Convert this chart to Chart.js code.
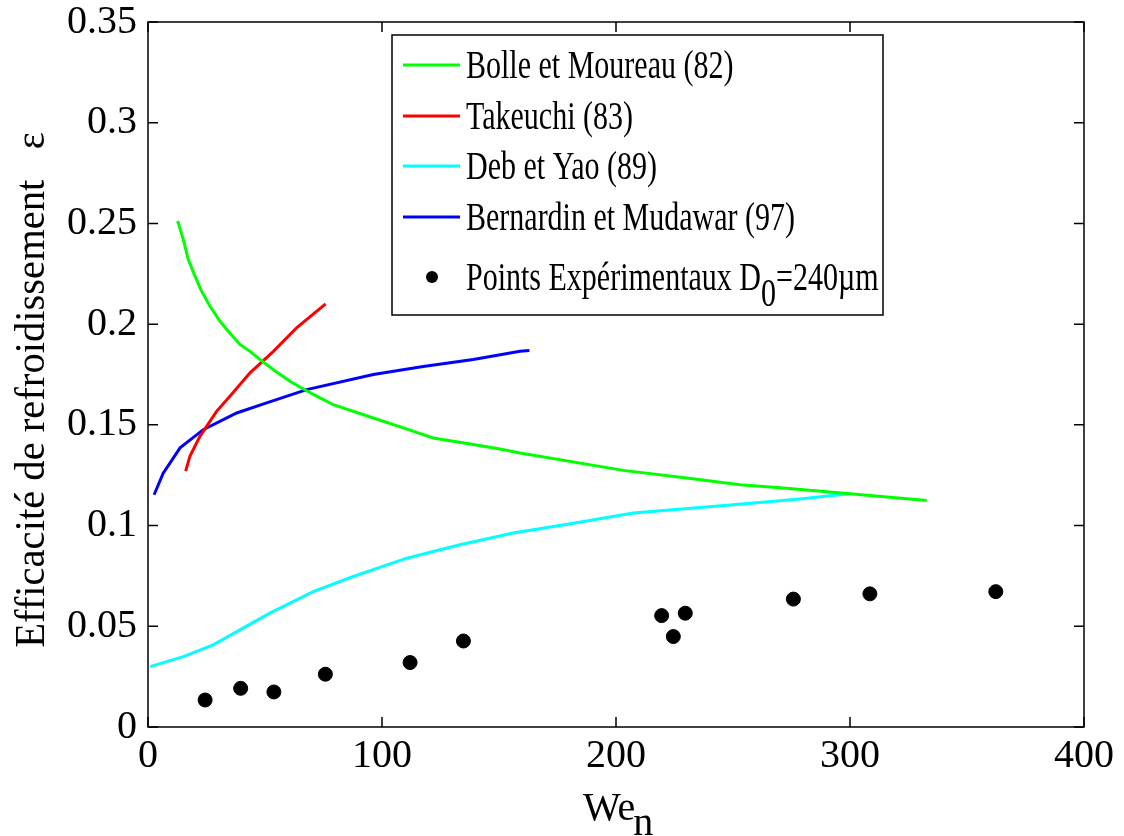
<!DOCTYPE html>
<html>
<head>
<meta charset="utf-8">
<script src="https://cdn.jsdelivr.net/npm/chart.js@4.4.1/dist/chart.umd.min.js"></script>
<style>
    body { margin: 0; background: #fff; }
    canvas { display: block; }
</style>
</head>
<body>
<canvas id="chart" width="1124" height="836"></canvas>
<script>
// values
const bolleX = [12.7, 15.1, 17.2, 20.1, 22.9, 26.5, 30.8, 34.3, 39.3, 43.6, 47.9, 53.6, 60.7, 66.4, 73.5, 79.2, 96.3, 109.1, 121.9, 139, 150.4, 159, 203.1, 230.2, 253, 271.5, 300, 332.8];
const bolleY = [0.2512, 0.242, 0.2321, 0.2238, 0.2164, 0.2089, 0.2014, 0.1965, 0.1899, 0.1865, 0.1824, 0.1774, 0.1716, 0.1678, 0.1634, 0.160, 0.1534, 0.1485, 0.1435, 0.1402, 0.138, 0.136, 0.1274, 0.1236, 0.1203, 0.1186, 0.1158, 0.1125];

const takeuchiX = [16.1, 17.9, 22.2, 29.3, 35, 43.6, 53.6, 63.5, 75.9];
const takeuchiY = [0.127, 0.1344, 0.1443, 0.1567, 0.1642, 0.1758, 0.1865, 0.1981, 0.2101];

const debX = [0.9, 15.1, 27.9, 39.3, 52.1, 70.6, 87.7, 110.6, 133.3, 156.1, 181.8, 207.4, 250.1, 278.6, 299.3];
const debY = [0.030, 0.0349, 0.0408, 0.0482, 0.0565, 0.0672, 0.0747, 0.0838, 0.0905, 0.0963, 0.1012, 0.1062, 0.1103, 0.1132, 0.1158];

const bernardinX = [2.6, 6.5, 13.7, 23.6, 37.9, 50.7, 67.8, 96.3, 117.6, 139, 159, 163];
const bernardinY = [0.1153, 0.126, 0.1386, 0.1476, 0.1559, 0.1609, 0.1675, 0.175, 0.179, 0.1824, 0.1865, 0.1869];

const expX = [24.4, 39.6, 53.8, 75.8, 112, 134.8, 219.5, 224.5, 229.6, 275.8, 308.5, 362.3];
const expY = [0.0134, 0.0192, 0.0174, 0.0262, 0.032, 0.0427, 0.0553, 0.0449, 0.0565, 0.0635, 0.0661, 0.0672];

const xTicks = [0, 100, 200, 300, 400];
const yTicks = [0, 0.05, 0.1, 0.15, 0.2, 0.25, 0.3, 0.35];

const xTitle = "We";
const xTitleSub = "n";
const yTitle = "Efficacité de refroidissement   ε";

const FONT = "'Liberation Serif', 'Times New Roman', serif";

/**
 * Pair x and y arrays into points.
 */
function toPoints(xs, ys) {
    const pts = [];
    for (let i = 0; i < xs.length; i++) {
        pts.push({ x: xs[i], y: ys[i] });
    }
    return pts;
}

function lineSet(label, xs, ys, color) {
    return {
        label: label,
        data: toPoints(xs, ys),
        showLine: true,
        borderColor: color,
        backgroundColor: color,
        borderWidth: 3,
        pointRadius: 0,
        tension: 0
    };
}

/**
 * MATLAB-like box with inward ticks on all four sides.
 */
const boxPlugin = {
    id: "box",
    afterDatasetsDraw(chart) {
        const { ctx, chartArea: a, scales } = chart;
        const len = 10;
        ctx.save();
        ctx.strokeStyle = "#000";
        ctx.lineWidth = 1.5;
        ctx.strokeRect(a.left, a.top, a.right - a.left, a.bottom - a.top);
        ctx.beginPath();
        xTicks.forEach(v => {
            const px = scales.x.getPixelForValue(v);
            ctx.moveTo(px, a.bottom); ctx.lineTo(px, a.bottom - len);
            ctx.moveTo(px, a.top); ctx.lineTo(px, a.top + len);
        });
        yTicks.forEach(v => {
            const py = scales.y.getPixelForValue(v);
            ctx.moveTo(a.left, py); ctx.lineTo(a.left + len, py);
            ctx.moveTo(a.right, py); ctx.lineTo(a.right - len, py);
        });
        ctx.stroke();
        ctx.restore();
    }
};

/**
 * Axis titles, x title has a subscript.
 */
const titlePlugin = {
    id: "titles",
    afterDraw(chart) {
        const { ctx } = chart;
        ctx.save();
        ctx.fillStyle = "#000";
        ctx.font = "40px " + FONT;
        ctx.textBaseline = "alphabetic";
        ctx.textAlign = "left";
        const wx = 583;
        ctx.fillText(xTitle, wx, 820);
        const w = ctx.measureText(xTitle).width;
        ctx.fillText(xTitleSub, wx + w - 2, 835);

        ctx.font = "43px " + FONT;
        ctx.translate(44, 390);
        ctx.rotate(-Math.PI / 2);
        ctx.scale(0.944, 1);
        ctx.textAlign = "center";
        ctx.fillText(yTitle, 0, 0);
        ctx.restore();
    }
};

/**
 * Legend box in the top right, drawn from the datasets.
 */
const legendPlugin = {
    id: "boxLegend",
    afterDraw(chart, args, opts) {
        const { ctx } = chart;
        const box = opts.box;
        ctx.save();
        ctx.fillStyle = "#fff";
        ctx.fillRect(box.x, box.y, box.w, box.h);
        ctx.strokeStyle = "#000";
        ctx.lineWidth = 1.5;
        ctx.strokeRect(box.x, box.y, box.w, box.h);

        chart.data.datasets.forEach((ds, i) => {
            const cy = opts.rows[i];
            if (ds.showLine) {
                ctx.strokeStyle = ds.borderColor;
                ctx.lineWidth = 3;
                ctx.beginPath();
                ctx.moveTo(box.x + 11, cy);
                ctx.lineTo(box.x + 68, cy);
                ctx.stroke();
            } else {
                ctx.fillStyle = ds.backgroundColor;
                ctx.beginPath();
                ctx.arc(box.x + 40, cy, 6, 0, Math.PI * 2);
                ctx.fill();
            }
            // text is a bit narrow in the original
            ctx.fillStyle = "#000";
            ctx.font = "40px " + FONT;
            ctx.textBaseline = "middle";
            ctx.textAlign = "left";
            ctx.save();
            ctx.translate(box.x + 74, cy + 2);
            ctx.scale(0.75, 1);
            const parts = ds.label.split("₀");
            let x = 0;
            parts.forEach((p, k) => {
                ctx.fillText(p, x, 0);
                x += ctx.measureText(p).width;
                if (k < parts.length - 1) {
                    ctx.fillText("0", x, 16);
                    x += ctx.measureText("0").width;
                }
            });
            ctx.restore();
        });
        ctx.restore();
    }
};

new Chart(document.getElementById("chart"), {
    type: "scatter",
    data: {
        datasets: [
            lineSet("Bolle et Moureau (82)", bolleX, bolleY, "#00ff00"),
            lineSet("Takeuchi (83)", takeuchiX, takeuchiY, "#ff0000"),
            lineSet("Deb et Yao (89)", debX, debY, "#00ffff"),
            lineSet("Bernardin et Mudawar (97)", bernardinX, bernardinY, "#0000ff"),
            {
                label: "Points Expérimentaux D₀=240µm",
                data: toPoints(expX, expY),
                showLine: false,
                backgroundColor: "#000",
                borderColor: "#000",
                pointRadius: 7,
                pointHoverRadius: 7
            }
        ]
    },
    options: {
        responsive: false,
        animation: false,
        layout: { padding: { top: 22, right: 40, bottom: 0, left: 0 } },
        plugins: {
            legend: { display: false },
            tooltip: { enabled: false },
            boxLegend: {
                box: { x: 392, y: 35, w: 491, h: 280 },
                rows: [65, 116, 166, 217, 277]
            }
        },
        scales: {
            x: {
                type: "linear",
                min: 0,
                max: 400,
                afterFit: s => {
                    s.height = 109;
                    s.paddingLeft = 0;
                    s.paddingRight = 0;
                },
                afterBuildTicks: s => { s.ticks = xTicks.map(v => ({ value: v })); },
                grid: { display: false, drawTicks: false },
                border: { display: false },
                ticks: {
                    color: "#000",
                    padding: 9,
                    font: { family: FONT, size: 40, lineHeight: 1 }
                }
            },
            y: {
                type: "linear",
                min: 0,
                max: 0.35,
                afterFit: s => {
                    s.width = 148;
                    s.paddingTop = 0;
                    s.paddingBottom = 0;
                },
                afterBuildTicks: s => { s.ticks = yTicks.map(v => ({ value: v })); },
                grid: { display: false, drawTicks: false },
                border: { display: false },
                ticks: {
                    color: "#000",
                    padding: 11,
                    font: { family: FONT, size: 40, lineHeight: 1 },
                    callback: v => String(+v.toFixed(2))
                }
            }
        }
    },
    plugins: [boxPlugin, titlePlugin, legendPlugin]
});
</script>
</body>
</html>
